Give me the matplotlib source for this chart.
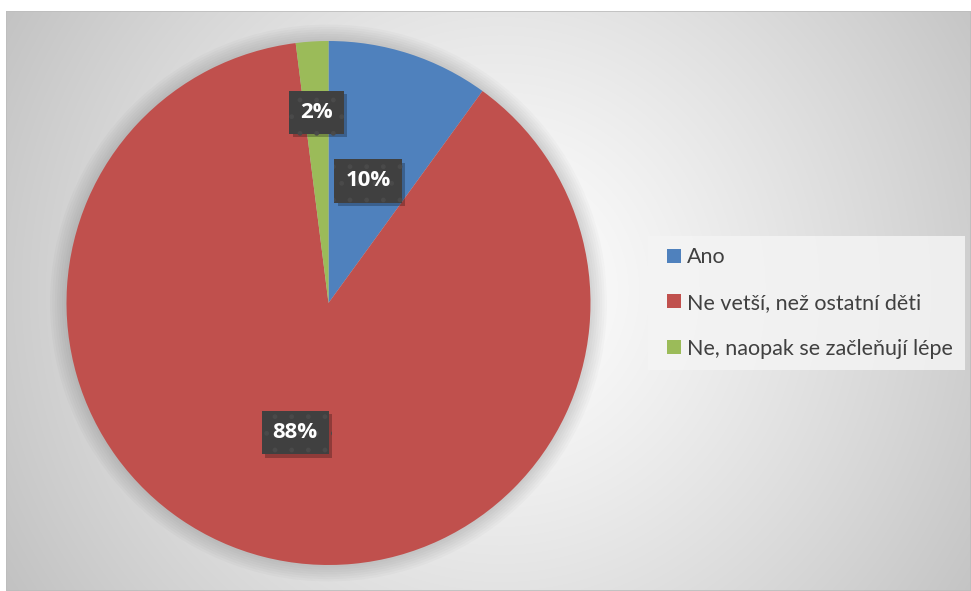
import numpy as np
import matplotlib
matplotlib.use("Agg")
import matplotlib.pyplot as plt
import matplotlib.patheffects as pe
from matplotlib.patches import Circle, Rectangle

categories = ["Ano", "Ne vetší, než ostatní děti", "Ne, naopak se začleňují lépe"]
values = [10, 88, 2]
colors = ["#4F81BD", "#C0504D", "#9BBB59"]
label_texts = ["10%", "88%", "2%"]

W, H = 971, 591
fig = plt.figure(figsize=(W / 100, H / 100), dpi=100)
fig.patch.set_facecolor("white")

# background frame with radial gradient
x0, y0, x1, y1 = 6, 11, 971, 591
bg = fig.add_axes([x0 / W, 1 - y1 / H, (x1 - x0) / W, (y1 - y0) / H])
bg.set_axis_off()
xs = np.arange(x0, x1)
ys = np.arange(y0, y1)
X, Y = np.meshgrid(xs, ys)
cx, cy = 500, 290
d = np.sqrt((X - cx) ** 2 + (Y - cy) ** 2) / 567.0
d = np.clip(d, 0, 1.1)
val = 255 - 60 * d ** 1.2
img = np.clip(np.dstack([val, val, val]) / 255.0, 0, 1)
bg.imshow(img, extent=[0, 1, 0, 1], aspect="auto", origin="upper")
bg.add_patch(Rectangle((0, 0), 1, 1, transform=bg.transAxes, fill=False,
                       edgecolor="#bdbdbd", linewidth=1.2))

# pie axes
pcx, pcy, r = 328.5, 303, 262
ax = fig.add_axes([(pcx - r) / W, 1 - (pcy + r) / H, 2 * r / W, 2 * r / H])
ax.set_axis_off()

# soft shadow glow around pie
for k in range(7):
    ax.add_patch(Circle((0, 0), 1.0 + 0.009 * (k + 1), color="black",
                        alpha=0.02, linewidth=0, zorder=0, clip_on=False))

wedges, _ = ax.pie(values, colors=colors, startangle=90, counterclock=False,
                   radius=1.0, wedgeprops=dict(linewidth=0, clip_on=False), frame=False)
ax.set_xlim(-1, 1)
ax.set_ylim(-1, 1)

dists = [0.49, 0.51, 0.73]
for w, txt, dist in zip(wedges, label_texts, dists):
    ang = np.deg2rad((w.theta1 + w.theta2) / 2)
    x, y = dist * np.cos(ang), dist * np.sin(ang)
    t = ax.text(x, y, txt, ha="center", va="center", fontsize=16, fontweight="bold",
                family="Open Sans", color="white",
                bbox=dict(boxstyle="square,pad=0.5", facecolor="#404040",
                          edgecolor="#4a4a4a", linewidth=0, hatch="."), zorder=6)
    t.get_bbox_patch().set_path_effects([
        pe.SimplePatchShadow(offset=(2.5, -2.5), shadow_rgbFace="black", alpha=0.25),
        pe.Normal()])

# legend
leg_ax = fig.add_axes([648 / W, 1 - 370 / H, (965 - 648) / W, (370 - 236) / H])
leg_ax.set_axis_off()
leg_ax.add_patch(Rectangle((0, 0), 1, 1, transform=leg_ax.transAxes,
                           facecolor="#f4f4f4", alpha=0.85, linewidth=0))
handles = [Rectangle((0, 0), 1, 1, facecolor=c, linewidth=0) for c in colors]
leg = leg_ax.legend(handles, categories, loc="center left", bbox_to_anchor=(0.0, 0.5),
                    frameon=False, prop=dict(family="Lato", size=15.5),
                    handlelength=0.62, handleheight=0.62, handletextpad=0.3,
                    labelspacing=1.2, borderaxespad=0.5)
for t in leg.get_texts():
    t.set_color("#404040")

fig.savefig("out.png", dpi=100)
